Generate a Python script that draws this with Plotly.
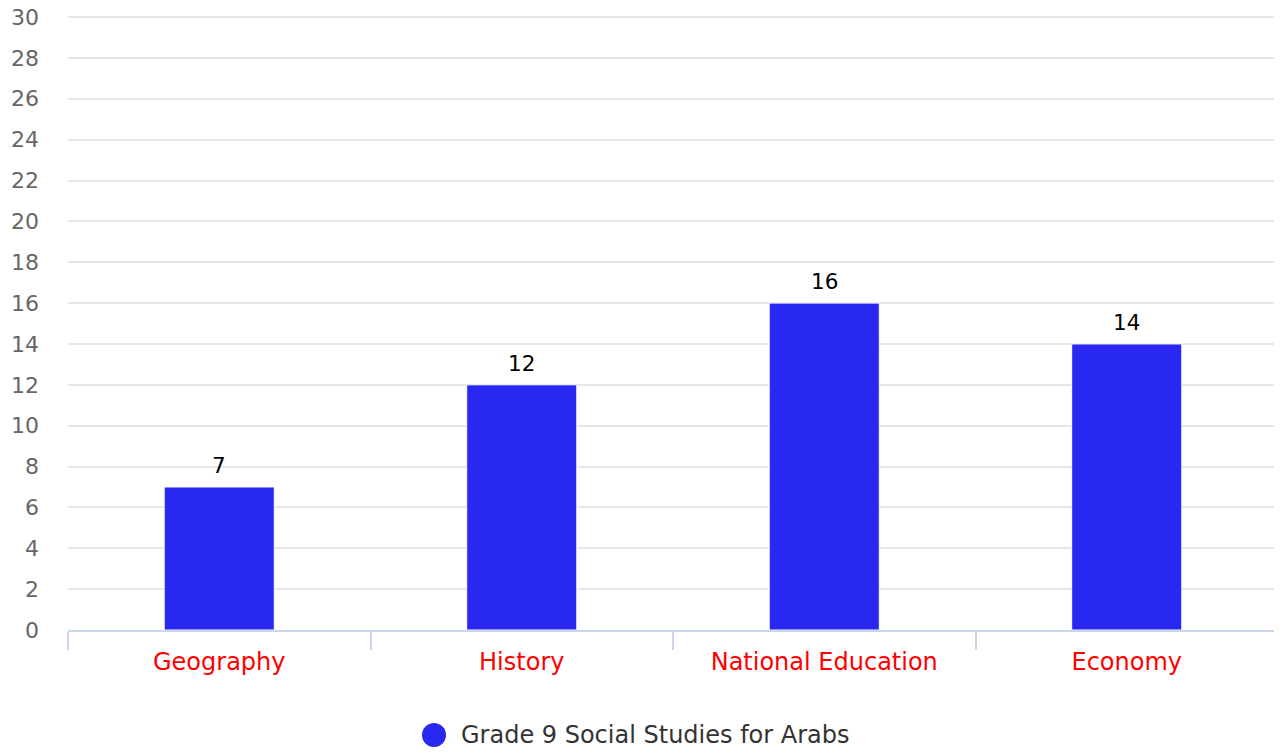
import plotly.graph_objects as go

categories = ["Geography", "History", "National Education", "Economy"]
values = [7, 12, 16, 14]
series_name = "Grade 9 Social Studies for Arabs"
y_ticks = list(range(0, 31, 2))
y_max = 30.1

BAR = "#2828F0"
FONT = "DejaVu Sans"

# page offset (body margin) compensation
OFF = 8
W, H = 1282 - OFF, 752 - OFF
PX0, PX1, PY0, PY1 = 68, 1278, 15, 630  # plot area on screen
ML, MR, MT, MB = PX0 - OFF, 4, PY0 - OFF, OFF + H - PY1


def px_x(x):
    return (x - PX0) / (PX1 - PX0)


def px_y(y):
    return (PY1 - y) / (PY1 - PY0)


fig = go.Figure()
fig.add_trace(go.Bar(
    x=categories, y=values, name=series_name,
    marker=dict(color=BAR, line=dict(color="white", width=1)),
    showlegend=False, hoverinfo="x+y",
))

for c, v in zip(categories, values):
    fig.add_annotation(x=c, y=v, text=str(v), showarrow=False,
                       xanchor="center", yanchor="bottom", yshift=7,
                       font=dict(family=FONT, size=21.5, color="#000000"))

# legend (manual, to get a large circle symbol)
fig.add_shape(type="circle", xref="paper", yref="paper",
              x0=px_x(422), x1=px_x(446), y0=px_y(747), y1=px_y(723),
              fillcolor=BAR, line=dict(color=BAR, width=0))
fig.add_annotation(xref="paper", yref="paper", x=px_x(459), y=px_y(735),
                   xanchor="left", yanchor="middle", showarrow=False,
                   text=series_name,
                   font=dict(family=FONT, size=24, color="#333333"))

fig.update_layout(
    width=W, height=H,
    margin=dict(l=ML, r=MR, t=MT, b=MB),
    paper_bgcolor="white", plot_bgcolor="white",
    bargap=0.636,
    font=dict(family=FONT),
    showlegend=False,
    xaxis=dict(
        type="category", showgrid=False, showline=True, automargin=False,
        linecolor="#ccd6eb", linewidth=2,
        ticks="outside", tickson="boundaries", ticklen=18, tickcolor="#ccd6eb", tickwidth=1.5,
        tickfont=dict(family=FONT, size=24, color="#ff0000"),
        ticklabelstandoff=9,
    ),
    yaxis=dict(
        range=[0, y_max], tickvals=y_ticks, showgrid=True, gridcolor="#e6e6e6", gridwidth=1.5,
        zeroline=False, showline=False, automargin=False,
        tickfont=dict(family=FONT, size=22, color="#666666"),
        ticklabelstandoff=28, ticklabeloverflow="allow",
    ),
)

fig.write_html("out.html")
